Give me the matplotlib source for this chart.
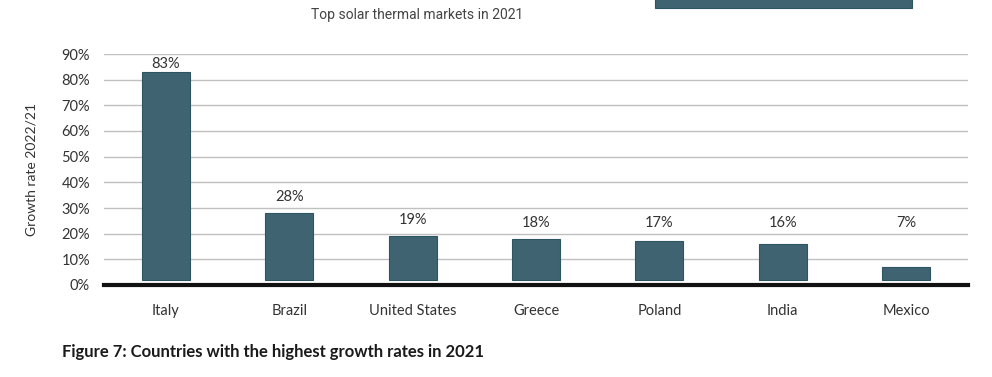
import matplotlib
matplotlib.use("Agg")
import matplotlib.pyplot as plt
from matplotlib.patches import Rectangle

countries = ["Italy", "Brazil", "United States", "Greece", "Poland", "India", "Mexico"]
growth = [83, 28, 19, 18, 17, 16, 7]
labels = ["83%", "28%", "19%", "18%", "17%", "16%", "7%"]
yticks = [0, 10, 20, 30, 40, 50, 60, 70, 80, 90]

plt.rcParams['font.family'] = ['Lato', 'DejaVu Sans']

fig = plt.figure(figsize=(9.92, 3.77), dpi=100)
ax = fig.add_axes([104/992, 1-285/377, 864/992, 231/377])

bar_color = "#3f6370"
base = 2
x = list(range(len(countries)))
ax.bar(x, [g - base for g in growth], bottom=base, width=0.39,
       color=bar_color, edgecolor="#2d5561", linewidth=0.8, zorder=3)
for xi, g, lab in zip(x, growth, labels):
    ypos = min(max(g, 18) + 6.3, 86)
    ax.text(xi, ypos, lab, ha="center", va="center", fontsize=10.5, color="#333333", zorder=4)

ax.set_xlim(-0.5, len(countries) - 0.5)
ax.set_ylim(0, 90)
ax.set_yticks(yticks)
ax.set_yticklabels([f"{t}%" for t in yticks])
ax.set_xticks(x)
ax.set_xticklabels(countries)
ax.yaxis.grid(True, color="#c0c0c0", linewidth=1.0, zorder=0)
ax.set_axisbelow(True)
for s in ax.spines.values():
    s.set_visible(False)
ax.axhline(0, color="#111111", linewidth=3.0, zorder=5, clip_on=False)
ax.tick_params(axis="both", length=0, labelcolor="#333333")
ax.tick_params(axis="x", pad=14, labelsize=10.5)
ax.tick_params(axis="y", pad=10, labelsize=10.5)
ax.set_ylabel("Growth rate 2022/21", fontsize=10, color="#333333", labelpad=17)

fig.text(417/992, 1-15/377, "Top solar thermal markets in 2021", ha="center", va="center",
         fontsize=10, color="#444444", family=["Roboto", "DejaVu Sans"], stretch="condensed")
fig.patches.append(Rectangle((655/992, 1-8/377), 257/992, 10/377, transform=fig.transFigure,
                             facecolor=bar_color, edgecolor="#2d5561", linewidth=0.8))
fig.text(62/992, 1-352/377, "Figure 7: Countries with the highest growth rates in 2021",
         ha="left", va="center", fontsize=12, fontweight="bold", color="#1a1a1a")

fig.savefig("out.png", dpi=100)
